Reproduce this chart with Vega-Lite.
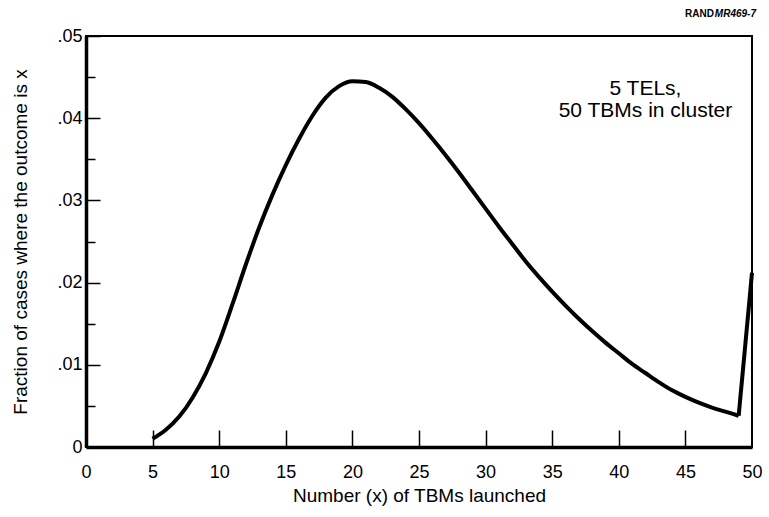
{
  "$schema": "https://vega.github.io/schema/vega-lite/v6.json",
  "width": 666,
  "height": 411,
  "autosize": "none",
  "padding": {"left": 86, "top": 36, "right": 17, "bottom": 70},
  "background": "white",
  "config": {
    "view": {"stroke": "black", "strokeWidth": 2},
    "font": "Liberation Sans",
    "axis": {"labelFont": "Liberation Sans", "titleFont": "Liberation Sans", "labelColor": "black", "titleColor": "black", "domainColor": "black", "tickColor": "black", "grid": false}
  },
  "datasets": {
    "curve": [
      {"x": 5, "y": 0.001}, {"x": 6, "y": 0.0021}, {"x": 7, "y": 0.0037}, {"x": 8, "y": 0.006},
      {"x": 9, "y": 0.009}, {"x": 10, "y": 0.0128}, {"x": 11, "y": 0.0174}, {"x": 12, "y": 0.0222},
      {"x": 13, "y": 0.0267}, {"x": 14, "y": 0.0307}, {"x": 15, "y": 0.0343}, {"x": 16, "y": 0.0375},
      {"x": 17, "y": 0.0403}, {"x": 18, "y": 0.0425}, {"x": 19, "y": 0.0439}, {"x": 20, "y": 0.0445},
      {"x": 21, "y": 0.0444}, {"x": 22, "y": 0.0437}, {"x": 23, "y": 0.0426}, {"x": 24, "y": 0.0411},
      {"x": 25, "y": 0.0394}, {"x": 26, "y": 0.0375}, {"x": 27, "y": 0.0355}, {"x": 28, "y": 0.0334},
      {"x": 29, "y": 0.0312}, {"x": 30, "y": 0.029}, {"x": 31, "y": 0.0268}, {"x": 32, "y": 0.0247},
      {"x": 33, "y": 0.0226}, {"x": 34, "y": 0.0207}, {"x": 35, "y": 0.0189}, {"x": 36, "y": 0.0172},
      {"x": 37, "y": 0.0156}, {"x": 38, "y": 0.0141}, {"x": 39, "y": 0.0127}, {"x": 40, "y": 0.0114},
      {"x": 41, "y": 0.0101}, {"x": 42, "y": 0.009}, {"x": 43, "y": 0.0079}, {"x": 44, "y": 0.0069},
      {"x": 45, "y": 0.0061}, {"x": 46, "y": 0.0054}, {"x": 47, "y": 0.0048}, {"x": 48, "y": 0.0043},
      {"x": 49, "y": 0.0038}, {"x": 50, "y": 0.0212}
    ],
    "notes": [
      {"x": 42.0, "y": 0.0436, "label": "5 TELs,\n50 TBMs in cluster"}
    ],
    "tag": [
      {"x": 50, "y": 0.05, "a": "RAND", "b": "MR469-7"}
    ]
  },
  "layer": [
    {
      "data": {"name": "curve"},
      "transform": [{"filter": "datum.x <= 49"}],
      "mark": {"type": "line", "color": "black", "strokeWidth": 4, "interpolate": "monotone", "clip": false},
      "encoding": {
        "x": {
          "field": "x", "type": "quantitative",
          "scale": {"domain": [0, 50], "nice": false, "zero": false},
          "axis": {
            "title": "Number (x) of TBMs launched",
            "titleFontSize": 19, "titleFontWeight": "normal", "titlePadding": 5,
            "values": [0, 5, 10, 15, 20, 25, 30, 35, 40, 45, 50],
            "labelFontSize": 18,
            "labelPadding": 33,
            "tickSize": -17,
            "tickColor": {"condition": {"test": "datum.value == 0 || datum.value == 50", "value": "transparent"}, "value": "black"},
            "tickWidth": 1.5,
            "domainWidth": 3.5,
            "labelFlush": false
          }
        },
        "y": {
          "field": "y", "type": "quantitative",
          "scale": {"domain": [0, 0.05], "nice": false},
          "axis": {
            "title": "Fraction of cases where the outcome is x",
            "titleFontSize": 19, "titleFontWeight": "normal", "titlePadding": 26,
            "values": [0, 0.005, 0.01, 0.015, 0.02, 0.025, 0.03, 0.035, 0.04, 0.045, 0.05],
            "labelExpr": "round(datum.value*1000) % 10 != 0 ? '' : (datum.value == 0 ? '0' : replace(format(datum.value, '.2f'), '0.', '.'))",
            "labelFontSize": 18,
            "labelPadding": 18,
            "tickSize": {"condition": {"test": "round(datum.value*1000) % 10 == 0", "value": -14}, "value": -9},
            "tickWidth": 1.5,
            "domainWidth": 3.5,
            "labelFlush": false
          }
        }
      }
    },
    {
      "data": {"name": "curve"},
      "transform": [{"filter": "datum.x >= 49"}],
      "mark": {"type": "line", "color": "black", "strokeWidth": 4, "interpolate": "linear", "clip": false, "strokeJoin": "miter"},
      "encoding": {
        "x": {"field": "x", "type": "quantitative"},
        "y": {"field": "y", "type": "quantitative"}
      }
    },
    {
      "data": {"name": "notes"},
      "mark": {"type": "text", "fontSize": 21, "lineBreak": "\n", "lineHeight": 22, "align": "center", "baseline": "middle", "color": "black"},
      "encoding": {
        "x": {"field": "x", "type": "quantitative"},
        "y": {"field": "y", "type": "quantitative"},
        "text": {"field": "label"}
      }
    },
    {
      "data": {"name": "tag"},
      "mark": {"type": "text", "fontSize": 10, "fontWeight": "bold", "align": "right", "baseline": "middle", "dx": -38, "dy": -22, "color": "black"},
      "encoding": {
        "x": {"field": "x", "type": "quantitative"},
        "y": {"field": "y", "type": "quantitative"},
        "text": {"field": "a"}
      }
    },
    {
      "data": {"name": "tag"},
      "mark": {"type": "text", "fontSize": 10, "fontWeight": "bold", "fontStyle": "italic", "align": "right", "baseline": "middle", "dx": 4, "dy": -22, "color": "black"},
      "encoding": {
        "x": {"field": "x", "type": "quantitative"},
        "y": {"field": "y", "type": "quantitative"},
        "text": {"field": "b"}
      }
    }
  ]
}
